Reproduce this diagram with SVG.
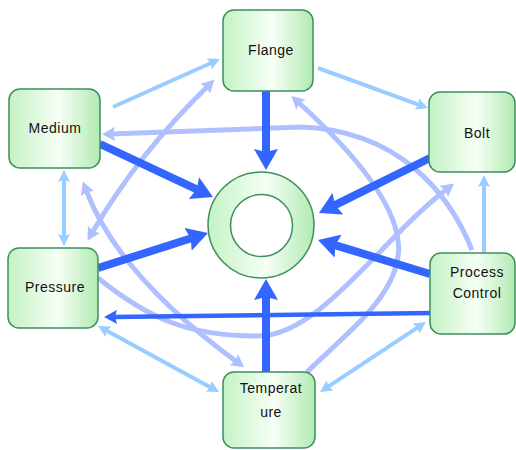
<svg xmlns="http://www.w3.org/2000/svg" width="516" height="450" viewBox="0 0 516 450">
<defs>
<linearGradient id="gfill" x1="0" y1="0" x2="1" y2="0">
<stop offset="0" stop-color="#c4f2c4"/>
<stop offset="0.55" stop-color="#f6fff6"/>
<stop offset="1" stop-color="#b2eab2"/>
</linearGradient>
<marker id="hd" markerUnits="userSpaceOnUse" viewBox="0 0 21 24" markerWidth="21" markerHeight="24" refX="6" refY="12" orient="auto">
<path d="M0,0 L21,12 L0,24 L3,12 Z" fill="#3366ff"/>
</marker>
<marker id="hm" markerUnits="userSpaceOnUse" viewBox="0 0 13 14" markerWidth="13" markerHeight="14" refX="5" refY="7" orient="auto">
<path d="M0,0 L13,7 L0,14 L2,7 Z" fill="#3366ff"/>
</marker>
<marker id="hl" markerUnits="userSpaceOnUse" viewBox="0 0 12 12" markerWidth="12" markerHeight="12" refX="4" refY="6" orient="auto-start-reverse">
<path d="M0,0 L12,6 L0,12 L2,6 Z" fill="#99ccff"/>
</marker>
<marker id="hv" markerUnits="userSpaceOnUse" viewBox="0 0 13 14" markerWidth="13" markerHeight="14" refX="4" refY="7" orient="auto-start-reverse">
<path d="M0,0 L13,7 L0,14 L2,7 Z" fill="#b0c0ff"/>
</marker>
</defs>
<style>
.node rect, .hub .outer { fill: url(#gfill); stroke: #3d8f60; stroke-width: 1.5; }
.hub .inner { fill: #ffffff; stroke: #3d8f60; stroke-width: 1.5; }
text { font-family: "Liberation Sans", Arial, sans-serif; font-size: 14px; fill: #111; text-anchor: middle; letter-spacing: 0.5px; }
.lb { fill: none; stroke: #99ccff; stroke-width: 4; }
.lv { fill: none; stroke: #b0c0ff; stroke-width: 5; }
.dk { fill: none; stroke: #3366ff; stroke-width: 8; marker-end: url(#hd); }
</style>
<g id="connectors">
<path class="lv" d="M472,250 C450,195 400,130 300,127 L111,134" marker-end="url(#hv)"/>
<path class="lv" d="M307,372 C350,330 405,290 398,240 C392,195 340,140 298,102" marker-end="url(#hv)"/>
<path class="lv" d="M98,278 C150,320 190,336 258,336 C320,336 380,240 447,189" marker-end="url(#hv)"/>
<path class="lv" d="M86,190 Q118,275 237,362" marker-start="url(#hv)" marker-end="url(#hv)"/>
<path class="lv" d="M92,233 Q138,154 208,86" marker-start="url(#hv)" marker-end="url(#hv)"/>
<line class="lb" x1="113" y1="107" x2="212.7" y2="62.3" marker-end="url(#hl)"/>
<line class="lb" x1="318" y1="68" x2="420.5" y2="105.3" marker-end="url(#hl)"/>
<line class="lb" x1="64" y1="178" x2="64" y2="238" marker-start="url(#hl)" marker-end="url(#hl)"/>
<line class="lb" x1="484" y1="252" x2="484" y2="183" marker-end="url(#hl)"/>
<line class="lb" x1="105" y1="329.8" x2="212" y2="388.2" marker-start="url(#hl)" marker-end="url(#hl)"/>
<line class="lb" x1="326.7" y1="387.6" x2="419.3" y2="326.4" marker-start="url(#hl)" marker-end="url(#hl)"/>
<line x1="432" y1="313" x2="112" y2="317" stroke="#3366ff" stroke-width="4.5" marker-end="url(#hm)"/>
<line class="dk" x1="266" y1="91" x2="266" y2="155"/>
<line class="dk" x1="100" y1="144" x2="199.4" y2="190.6"/>
<line class="dk" x1="430" y1="158" x2="332.4" y2="206.3"/>
<line class="dk" x1="98" y1="268" x2="193.7" y2="237.5"/>
<line class="dk" x1="430" y1="274" x2="332.4" y2="244.4"/>
<line class="dk" x1="266" y1="372" x2="266" y2="294"/>
</g>
<g id="hub" class="hub">
<circle class="outer" cx="261" cy="225" r="53"/>
<circle class="inner" cx="261.5" cy="225.5" r="31"/>
</g>
<g id="flange" class="node">
<rect x="223" y="10" width="90" height="81" rx="11"/>
<text x="271" y="55">Flange</text>
</g>
<g id="medium" class="node">
<rect x="9" y="89" width="91" height="79" rx="11"/>
<text x="55" y="133">Medium</text>
</g>
<g id="bolt" class="node">
<rect x="429" y="92" width="86" height="80" rx="11"/>
<text x="477" y="138">Bolt</text>
</g>
<g id="pressure" class="node">
<rect x="8" y="248" width="90" height="80" rx="11"/>
<text x="55" y="292">Pressure</text>
</g>
<g id="process-control" class="node">
<rect x="430" y="253" width="85" height="81" rx="11"/>
<text x="477" y="277">Process</text>
<text x="477" y="298">Control</text>
</g>
<g id="temperature" class="node">
<rect x="223" y="372" width="92" height="76" rx="11"/>
<text x="271" y="393">Temperat</text>
<text x="271" y="417">ure</text>
</g>
</svg>
